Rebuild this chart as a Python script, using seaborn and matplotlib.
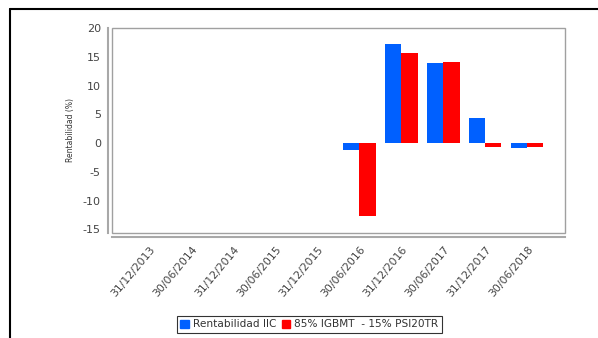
import numpy as np
import pandas as pd
import seaborn as sns
import matplotlib.pyplot as plt
from matplotlib.lines import Line2D
from matplotlib.patches import Rectangle

dates = ["31/12/2013", "30/06/2014", "31/12/2014", "30/06/2015", "31/12/2015",
         "30/06/2016", "31/12/2016", "30/06/2017", "31/12/2017", "30/06/2018"]
fund = [np.nan, np.nan, np.nan, np.nan, np.nan, -1.2, 17.2, 13.95, 4.45, -0.9]
bench = [np.nan, np.nan, np.nan, np.nan, np.nan, -12.6, 15.65, 14.1, -0.65, -0.6]
series = ["Rentabilidad IIC", "85% IGBMT  - 15% PSI20TR"]
colors = ["#0060FF", "#FF0000"]

df = pd.DataFrame({
    "fecha": dates * 2,
    "valor": fund + bench,
    "serie": [series[0]] * len(dates) + [series[1]] * len(dates),
})

sns.set_style("white")
plt.rcParams['font.family'] = ['DejaVu Sans']
plt.rcParams['axes.unicode_minus'] = False

fig = plt.figure(figsize=(5.98, 3.38), dpi=100)
ax = fig.add_axes([0.1873, 0.311, 0.7575, 0.606])

sns.barplot(data=df, x="fecha", y="valor", hue="serie", order=dates,
            hue_order=series, palette=colors, saturation=1, width=0.77,
            ax=ax, edgecolor="none", legend=False)

ax.set_xlim(-0.9, 9.9)
ax.set_ylim(-15.6, 20)
ax.set_yticks(range(-15, 21, 5))
ax.set_xlabel("")
ax.set_ylabel("Rentabilidad (%)", fontsize=5.5, color="#333333", labelpad=6)

# plot box
ax.add_patch(Rectangle((0, 0), 1, 1, transform=ax.transAxes, fill=False,
                       edgecolor="#A0A0A0", lw=1.0, zorder=5, clip_on=False))
for s in ["top", "right"]:
    ax.spines[s].set_visible(False)
for s in ["left", "bottom"]:
    ax.spines[s].set_position(("outward", 3))
    ax.spines[s].set_color("#A8A8A8")
    ax.spines[s].set_linewidth(1.5)

ax.tick_params(axis="both", length=3, width=0.8, color="#909090",
               labelcolor="#444444", pad=2)
ax.tick_params(axis="x", labelsize=7.8)
ax.tick_params(axis="y", labelsize=8)
for lbl in ax.get_xticklabels():
    lbl.set_rotation(50)
    lbl.set_ha("right")
    lbl.set_rotation_mode("anchor")

handles = [Rectangle((0, 0), 1, 1, color=c) for c in colors]
leg = fig.legend(handles, series, loc="center", bbox_to_anchor=(0.5176, 0.04),
                 ncol=2, fontsize=7.6, frameon=True, fancybox=False,
                 handlelength=0.8, handleheight=0.8, handletextpad=0.4,
                 columnspacing=0.5, borderpad=0.3, borderaxespad=0)
leg.get_frame().set_edgecolor("black")
leg.get_frame().set_linewidth(0.8)
for t in leg.get_texts():
    t.set_color("#333333")

# outer frame
fig.add_artist(Line2D([0.016, 1.0], [0.973, 0.973], color="black", lw=1.5))
fig.add_artist(Line2D([0.016, 0.016], [0.0, 0.973], color="black", lw=1.5))

fig.savefig("out.png", dpi=100)
